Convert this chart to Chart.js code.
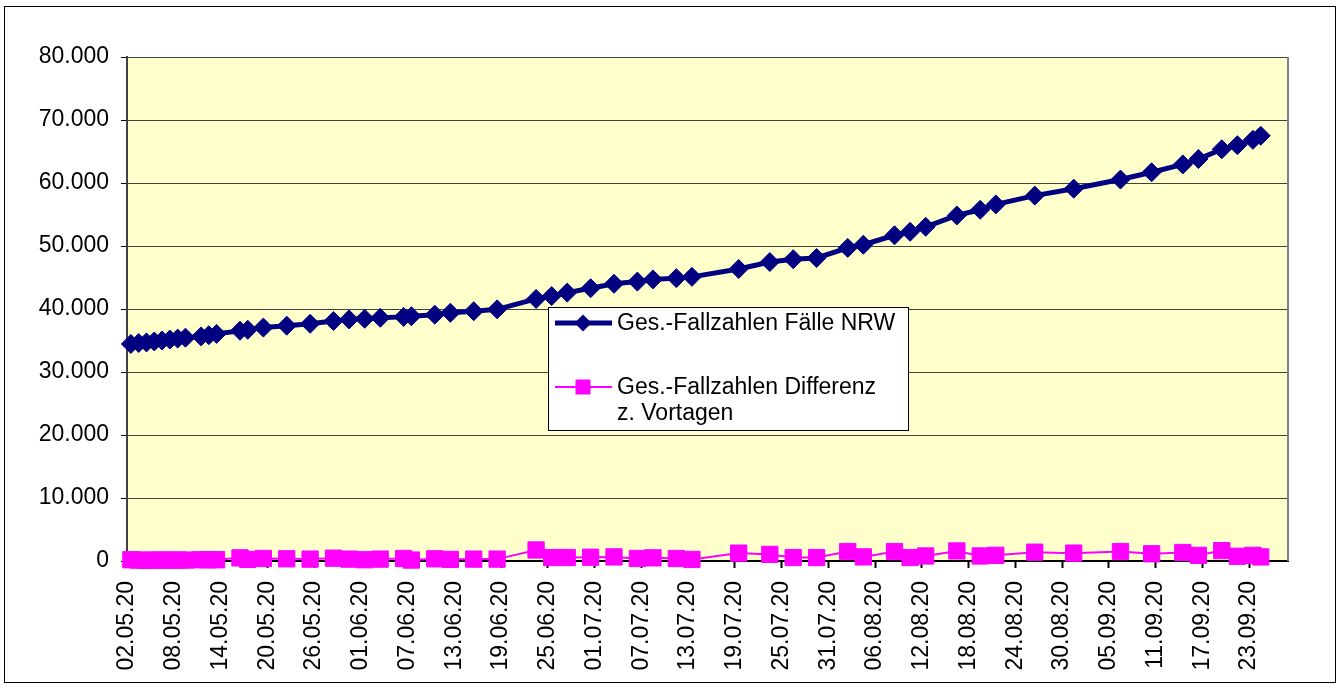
<!DOCTYPE html>
<html>
<head>
<meta charset="utf-8">
<script src="https://cdn.jsdelivr.net/npm/chart.js@4.4.0/dist/chart.umd.min.js"></script>
<style>
html,body{margin:0;padding:0;background:#fff;}
#wrap{position:relative;width:1341px;height:689px;}
</style>
</head>
<body>
<div id="wrap"><canvas id="c" width="1341" height="689"></canvas></div>
<script>
// ---- data ----
const startDate = '02.05.20';
const endDays = 149; // axis runs 02.05.20 .. 28.09.20
const tickStepDays = 6;

const dates = [
  '02.05.20','03.05.20','04.05.20','05.05.20','06.05.20','07.05.20','08.05.20','09.05.20',
  '11.05.20','12.05.20','13.05.20','16.05.20','17.05.20','19.05.20','22.05.20','25.05.20',
  '28.05.20','30.05.20','01.06.20','03.06.20','06.06.20','07.06.20','10.06.20','12.06.20',
  '15.06.20','18.06.20','23.06.20','25.06.20','27.06.20','30.06.20','03.07.20','06.07.20',
  '08.07.20','11.07.20','13.07.20','19.07.20','23.07.20','26.07.20','29.07.20','02.08.20',
  '04.08.20','08.08.20','10.08.20','12.08.20','16.08.20','19.08.20','21.08.20','26.08.20',
  '31.08.20','06.09.20','10.09.20','14.09.20','16.09.20','19.09.20','21.09.20','23.09.20',
  '24.09.20'
];
const faelleNRW = [
  34450,34600,34700,34850,35000,35150,35300,35450,
  35650,35850,36050,36550,36700,37050,37350,37650,
  38100,38350,38450,38600,38750,38850,39100,39400,
  39650,39950,41600,42050,42600,43300,44000,44350,
  44700,44900,45100,46350,47450,47900,48100,49700,
  50200,51700,52250,53050,54850,55750,56600,58000,
  59100,60550,61700,62950,63800,65350,66000,66850,
  67500
];
const differenz = [
  200,150,100,150,150,150,150,150,
  200,200,200,500,250,400,350,300,
  450,300,200,300,400,150,350,250,
  300,300,1750,550,550,600,650,400,
  500,400,250,1250,1050,550,550,1500,
  650,1500,550,800,1600,800,900,1400,
  1250,1500,1150,1350,900,1650,750,900,
  650
];
const seriesLabels = ['Ges.-Fallzahlen Fälle NRW', 'Ges.-Fallzahlen Differenz z. Vortagen'];
const legendLines = [['Ges.-Fallzahlen Fälle NRW'], ['Ges.-Fallzahlen Differenz', 'z. Vortagen']];
const yMin = 0, yMax = 80000, yStep = 10000;

// ---- helpers ----
function parseD(s){const p=s.split('.').map(Number);return Date.UTC(2000+p[2],p[1]-1,p[0]);}
const t0 = parseD(startDate);
function dayPos(s){return Math.round((parseD(s)-t0)/86400000) + 0.5;} // centre of the day slot
function fmtDay(v){
  const d=new Date(t0+Math.round(v)*86400000);
  const p=n=>String(n).padStart(2,'0');
  return p(d.getUTCDate())+'.'+p(d.getUTCMonth()+1)+'.'+String(d.getUTCFullYear()).slice(2);
}
function fmtNum(v){return String(v).replace(/\B(?=(\d{3})+(?!\d))/g,'.');}

const NAVY='#000080', MAG='#FF00FF';
const FONT='"Liberation Sans", Arial, sans-serif';

const decor = {
  id:'decor',
  beforeDraw(chart){
    const {ctx, chartArea:a} = chart;
    ctx.save();
    ctx.fillStyle='#fff'; ctx.fillRect(0,0,chart.width,chart.height);
    ctx.strokeStyle='#000'; ctx.lineWidth=1;
    ctx.strokeRect(4.5,6.5,1331,676);
    ctx.fillStyle='#FFFFCC'; ctx.fillRect(a.left,a.top,a.right-a.left,a.bottom-a.top);
    ctx.restore();
  },
  beforeDatasetsDraw(chart){
    const {ctx, chartArea:a} = chart;
    ctx.save();
    ctx.strokeStyle='#808080'; ctx.lineWidth=2;
    ctx.beginPath(); ctx.moveTo(a.right, a.top); ctx.lineTo(a.right, a.bottom); ctx.stroke();
    ctx.restore();
  },
  afterDraw(chart){
    const ctx = chart.ctx;
    const ds = chart.data.datasets;
    ctx.save();
    const bx=548.5, by=307.5, bw=360, bh=123;
    ctx.fillStyle='#fff'; ctx.fillRect(bx,by,bw,bh);
    ctx.strokeStyle='#000'; ctx.lineWidth=1; ctx.strokeRect(bx,by,bw,bh);
    ctx.font='23px '+FONT; ctx.fillStyle='#000'; ctx.textBaseline='middle'; ctx.textAlign='left';
    const rows=[323,387];
    ds.forEach((d,i)=>{
      const y=rows[i];
      ctx.strokeStyle=d.borderColor; ctx.lineWidth=d.borderWidth;
      ctx.beginPath(); ctx.moveTo(555,y); ctx.lineTo(612,y); ctx.stroke();
      ctx.fillStyle=d.backgroundColor;
      if(d.pointStyle==='rectRot'){
        const r=8.5; ctx.beginPath(); ctx.moveTo(583-r,y); ctx.lineTo(583,y-r); ctx.lineTo(583+r,y); ctx.lineTo(583,y+r); ctx.closePath(); ctx.fill();
      } else {
        ctx.fillRect(583-7.5,y-7.5,15,15);
      }
      ctx.fillStyle='#000';
      legendLines[i].forEach((t,k)=>ctx.fillText(t,617,y+1+k*26));
    });
    ctx.restore();
  }
};

new Chart(document.getElementById('c'), {
  type:'line',
  data:{
    datasets:[
      {label:seriesLabels[0], data:dates.map((d,i)=>({x:dayPos(d),y:faelleNRW[i]})),
       borderColor:NAVY, backgroundColor:NAVY, borderWidth:5, tension:0,
       pointStyle:'rectRot', pointRadius:9.5, pointBorderWidth:1, pointBackgroundColor:NAVY, pointBorderColor:NAVY, clip:false},
      {label:seriesLabels[1], data:dates.map((d,i)=>({x:dayPos(d),y:differenz[i]})),
       borderColor:MAG, backgroundColor:MAG, borderWidth:2, tension:0,
       pointStyle:'rect', pointRadius:11.5, pointBorderWidth:1, pointBackgroundColor:MAG, pointBorderColor:MAG, clip:false}
    ]
  },
  options:{
    responsive:false, animation:false, devicePixelRatio:1,
    layout:{padding:{top:57,right:53,left:0,bottom:0}},
    plugins:{legend:{display:false}, tooltip:{enabled:false}},
    scales:{
      x:{type:'linear', min:0, max:endDays,
        afterFit(s){s.height=128;},
        grid:{drawOnChartArea:false, drawTicks:true, tickLength:7, tickColor:'#000', tickWidth:2},
        border:{display:true,color:'#000',width:2},
        ticks:{stepSize:tickStepDays, includeBounds:false, autoSkip:false, maxRotation:90, minRotation:90,
          padding:13, color:'#000', font:{family:FONT,size:23}, callback:v=>fmtDay(v)}
      },
      y:{min:yMin, max:yMax,
        afterFit(s){s.width=127;},
        grid:{color:'#404040', lineWidth:1, drawTicks:true, tickLength:6, tickColor:'#000', tickWidth:1},
        border:{display:true,color:'#404040',width:2},
        ticks:{stepSize:yStep, padding:12, color:'#000', font:{family:FONT,size:23}, callback:v=>fmtNum(v)}
      }
    }
  },
  plugins:[decor]
});
</script>
</body>
</html>
